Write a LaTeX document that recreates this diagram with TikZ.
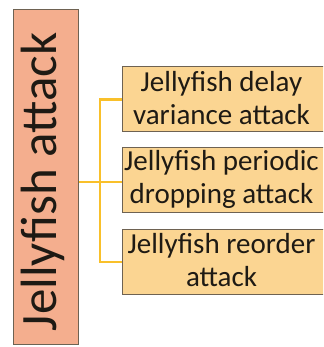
\documentclass[tikz,border=0pt]{standalone}
\usepackage{fontspec}
\setmainfont{Carlito}
\definecolor{rootfill}{HTML}{F4AE8E}
\definecolor{leaffill}{HTML}{FBD592}
\definecolor{edgegray}{HTML}{6E6252}
\definecolor{linkgold}{HTML}{F9C02A}
\definecolor{inkdark}{HTML}{1E1A14}
\tikzset{
  rootbox/.style={draw=edgegray, line width=1pt, fill=rootfill, inner sep=0pt},
  leafbox/.style={draw=edgegray, line width=1pt, fill=leaffill, inner sep=0pt,
    minimum width=230pt, minimum height=65pt},
  leaftext/.style={text=inkdark, align=center, inner sep=0pt,
    font=\fontsize{29}{33}\selectfont},
  roottext/.style={text=inkdark, rotate=90, inner sep=0pt,
    font=\fontsize{51}{60}\selectfont},
  link/.style={draw=linkgold, line width=2.3pt}
}
\begin{document}
\begin{tikzpicture}[x=1pt, y=1pt]
\useasboundingbox (0,0) rectangle (323,347);
\clip (0,0) rectangle (323,347);
\fill[white] (0,0) rectangle (323,347);
% root column
\node[rootbox, minimum width=65pt, minimum height=335pt] (root) at (45.5,169.5) {};
\node[roottext] (roottxt) at (43,165) {Jellyfish attack};
% tree connectors
\coordinate (fork) at (100,165);
\draw[link] (root.east |- fork) -- (fork);
% leaf boxes (they run past the right edge)
\node[leafbox] (d1) at (237,247.5) {};
\node[leafbox] (d2) at (237,166.5) {};
\node[leafbox] (d3) at (237,85) {};
\draw[link] (d1.west) -| (fork) |- (d3.west);
\draw[link] (fork) -- (d2.west |- fork);
\node[leaftext] (t1) at (221.5,249) {Jellyfish delay\\variance attack};
\node[leaftext] (t2) at (221.5,168) {Jellyfish periodic\\dropping attack};
\node[leaftext] (t3) at (221.5,86.5) {Jellyfish reorder\\attack};
\end{tikzpicture}
\end{document}
